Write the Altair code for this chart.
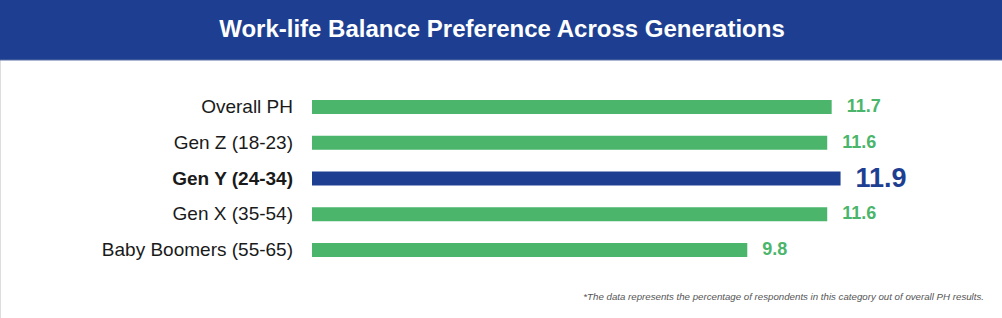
import altair as alt
import pandas as pd

categories = ["Overall PH", "Gen Z (18-23)", "Gen Y (24-34)", "Gen X (35-54)", "Baby Boomers (55-65)"]
values = [11.7, 11.6, 11.9, 11.6, 9.8]
labels = ["11.7", "11.6", "11.9", "11.6", "9.8"]
highlight = "Gen Y (24-34)"
title_text = "Work-life Balance Preference Across Generations"
footnote_text = "*The data represents the percentage of respondents in this category out of overall PH results."

GREEN = "#4ab56b"
BLUE = "#1e3f91"

df = pd.DataFrame({"cat": categories, "val": values, "lab": labels})
df["hi"] = df["cat"] == highlight

xs = alt.Scale(domain=[0, 12], range=[312, 845], nice=False, zero=True)
ys = alt.Scale(domain=categories, range=[107, 250], type="point", padding=0)

X = alt.X("val:Q", scale=xs, axis=None)
Y = alt.Y("cat:N", scale=ys, axis=None, sort=categories)

header = alt.Chart(pd.DataFrame({"t": [title_text]})).mark_rect(color=BLUE).encode(
    x=alt.value(0), x2=alt.value(1002), y=alt.value(0), y2=alt.value(60)
)
header_line = alt.Chart(pd.DataFrame({"t": [title_text]})).mark_rule(color="#5b70a6", strokeWidth=1).encode(
    x=alt.value(0), x2=alt.value(1002), y=alt.value(60)
)
title = alt.Chart(pd.DataFrame({"t": [title_text]})).mark_text(
    color="white", font="Liberation Sans, sans-serif", fontWeight="bold",
    fontSize=24, align="center", baseline="middle"
).encode(x=alt.value(502), y=alt.value(30), text="t:N")

bars = alt.Chart(df).mark_bar(height=14).encode(
    x=X, x2=alt.datum(0), y=Y,
    color=alt.condition("datum.hi", alt.value(BLUE), alt.value(GREEN)),
)

vals = alt.Chart(df).mark_text(
    align="left", baseline="middle", dx=15, fontWeight="bold",
    font="Liberation Sans, sans-serif"
).encode(
    x=X, y=Y, text="lab:N",
    color=alt.condition("datum.hi", alt.value(BLUE), alt.value(GREEN)),
    size=alt.condition("datum.hi", alt.value(27), alt.value(18)),
)

cat_norm = alt.Chart(df).transform_filter("!datum.hi").mark_text(
    align="right", baseline="middle", fontSize=19, color="#1a1a1a", font="Liberation Sans, sans-serif"
).encode(x=alt.value(293), y=Y, text="cat:N")
cat_bold = alt.Chart(df).transform_filter("datum.hi").mark_text(
    align="right", baseline="middle", fontSize=19, color="#1a1a1a", fontWeight="bold", font="Liberation Sans, sans-serif"
).encode(x=alt.value(293), y=Y, text="cat:N")

foot = alt.Chart(pd.DataFrame({"t": [footnote_text]})).mark_text(
    align="right", baseline="alphabetic", fontSize=9.7, fontStyle="italic", color="#555555",
    font="Liberation Sans, sans-serif"
).encode(x=alt.value(984), y=alt.value(300), text="t:N")

chart = alt.layer(header, header_line, title, bars, vals, cat_norm, cat_bold, foot).properties(
    width=1002, height=318, autosize=alt.AutoSizeParams(type="none"), padding=0
).configure_view(stroke=None).configure(background="white")

chart.save("out.html", embed_options={"renderer": "svg", "actions": False})
